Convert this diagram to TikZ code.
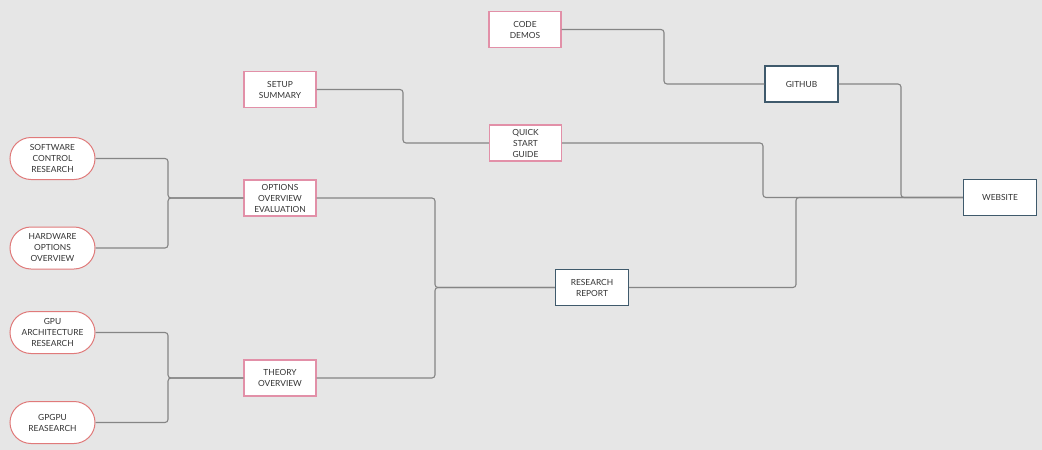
\documentclass[tikz,border=0pt]{standalone}
\usepackage{fontspec}
\setmainfont{Lato}
\usetikzlibrary{shapes.misc}
\definecolor{bg}{HTML}{E6E6E6}
\definecolor{pinkb}{HTML}{E290A8}
\definecolor{redb}{HTML}{E07A7A}
\definecolor{blueb}{HTML}{3F5A6C}
\definecolor{linec}{HTML}{858585}
\definecolor{txt}{HTML}{333333}
\tikzset{
  base/.style={fill=white, text=txt, align=center, inner sep=0pt, font=\fontsize{8.4}{11}\selectfont},
  pinkbox/.style={base, draw=pinkb, line width=1.1pt, minimum width=72pt, minimum height=36pt},
  bluebox/.style={base, draw=blueb, line width=1.3pt, minimum width=73pt, minimum height=36pt},
  pill/.style={base, draw=redb, line width=1pt, rounded rectangle, minimum width=85pt, minimum height=42pt},
  conn/.style={draw=linec, line width=1.1pt, rounded corners=3pt}
}
\begin{document}
\begin{tikzpicture}[x=1pt,y=-1pt]
\fill[bg] (0,0) rectangle (1042,450);
\useasboundingbox (0,0) rectangle (1042,450);

% nodes
\node[pinkbox] (code) at (525,29.5) {CODE\\DEMOS};
\node[pinkbox] (setup) at (280,89.5) {SETUP\\SUMMARY};
\node[pinkbox] (quick) at (525.5,143) {QUICK\\START\\GUIDE};
\node[bluebox] (github) at (801.5,84) {GITHUB};
\node[bluebox] (website) at (1000,197.5) {WEBSITE};
\node[bluebox] (report) at (592,287.5) {RESEARCH\\REPORT};
\node[pinkbox] (options) at (280,198) {OPTIONS\\OVERVIEW\\EVALUATION};
\node[pinkbox] (theory) at (280,378) {THEORY\\OVERVIEW};
\node[pill] (soft) at (52.5,158.5) {SOFTWARE\\CONTROL\\RESEARCH};
\node[pill] (hard) at (52.5,248) {HARDWARE\\OPTIONS\\OVERVIEW};
\node[pill] (gpu) at (52.5,332.5) {GPU\\ARCHITECTURE\\RESEARCH};
\node[pill] (gpgpu) at (52.5,422.5) {GPGPU\\REASEARCH};

% junction coordinates
\coordinate (j1) at (168,198);
\coordinate (j2) at (168,378);
\coordinate (j3) at (435,287.5);
\coordinate (j4) at (403,143);
\coordinate (j5) at (664,84);
\coordinate (j6) at (763,197.5);
\coordinate (j7) at (901,197.5);
\coordinate (j8) at (796,197.5);

% connectors
\draw[conn] (soft.east) -| (j1) -- (options.west);
\draw[conn] (hard.east) -| (j1) -- (options.west);
\draw[conn] (gpu.east) -| (j2) -- (theory.west);
\draw[conn] (gpgpu.east) -| (j2) -- (theory.west);
\draw[conn] (options.east) -| (j3) -- (report.west);
\draw[conn] (theory.east) -| (j3) -- (report.west);
\draw[conn] (setup.east) -| (j4) -- (quick.west);
\draw[conn] (code.east) -| (j5) -- (github.west);
\draw[conn] (quick.east) -| (j6) -- (website.west);
\draw[conn] (github.east) -| (j7) -- (website.west);
\draw[conn] (report.east) -| (j8) -- (website.west);
\end{tikzpicture}
\end{document}
